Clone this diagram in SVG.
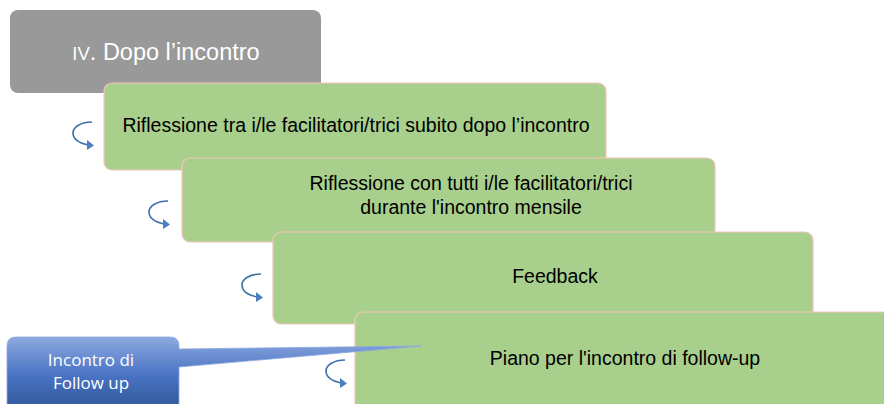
<svg xmlns="http://www.w3.org/2000/svg" width="884" height="404" viewBox="0 0 884 404">
<style>
.box{fill:#a9cf8c;stroke:#f4c4be;stroke-width:1.2}
.t{font-family:"Liberation Sans",Arial,sans-serif;font-size:19.5px;fill:#000;text-anchor:middle}
.cyc{fill:none;stroke:#3f6fa8;stroke-width:1.6}
.ah{fill:#4a7fc0}
</style>
<defs>
<linearGradient id="bl" x1="0" y1="0" x2="0" y2="1">
<stop offset="0" stop-color="#8eaadf"/>
<stop offset="0.5" stop-color="#4a74c4"/>
<stop offset="1" stop-color="#2e5596"/>
</linearGradient>
<g id="cyc">
<path class="cyc" d="M19 0 C8 0 0 5 0 11 C0 17 6 21 15 23"/>
<path class="ah" d="M14 18 L21 23.5 L14 28 Z"/>
</g>
</defs>
<g id="title">
<rect x="10" y="10" width="311" height="83" rx="8" fill="#999999"/>
<text x="166" y="60" font-family="Liberation Sans,Arial,sans-serif" font-size="23.5" fill="#fff" text-anchor="middle"><tspan font-size="18.5">IV</tspan>. Dopo l’incontro</text>
</g>
<g id="n1">
<rect class="box" x="104" y="83" width="502" height="87" rx="8"/>
<text class="t" x="356" y="132">Riflessione tra i/le facilitatori/trici subito dopo l’incontro</text>
</g>
<g id="n2">
<rect class="box" x="182" y="158" width="533" height="84" rx="8"/>
<text class="t" x="471" y="190">Riflessione con tutti i/le facilitatori/trici</text>
<text class="t" x="471" y="214">durante l'incontro mensile</text>
</g>
<g id="n3">
<rect class="box" x="273" y="232" width="540" height="92" rx="8"/>
<text class="t" x="555" y="283">Feedback</text>
</g>
<g id="n4">
<rect class="box" x="355" y="312" width="540" height="100" rx="8"/>
<text class="t" x="625" y="365">Piano per l'incontro di follow-up</text>
</g>
<g id="connectors">
<use href="#cyc" x="73" y="122"/>
<use href="#cyc" x="149" y="201"/>
<use href="#cyc" x="242" y="274"/>
<use href="#cyc" x="326" y="360"/>
</g>
<g id="callout">
<path d="M7 346 Q7 337 16 337 L170 337 Q179 337 179 346 L179 349 L421 346 L179 367 L179 412 L7 412 Z" fill="url(#bl)" stroke="#8eaadf" stroke-width="0.8"/>
<text x="91" y="366" font-family="Open Sans,Liberation Sans,sans-serif" font-size="17" fill="#fff" text-anchor="middle">Incontro di</text>
<text x="91" y="389" font-family="Open Sans,Liberation Sans,sans-serif" font-size="17" fill="#fff" text-anchor="middle">Follow up</text>
</g>
</svg>
